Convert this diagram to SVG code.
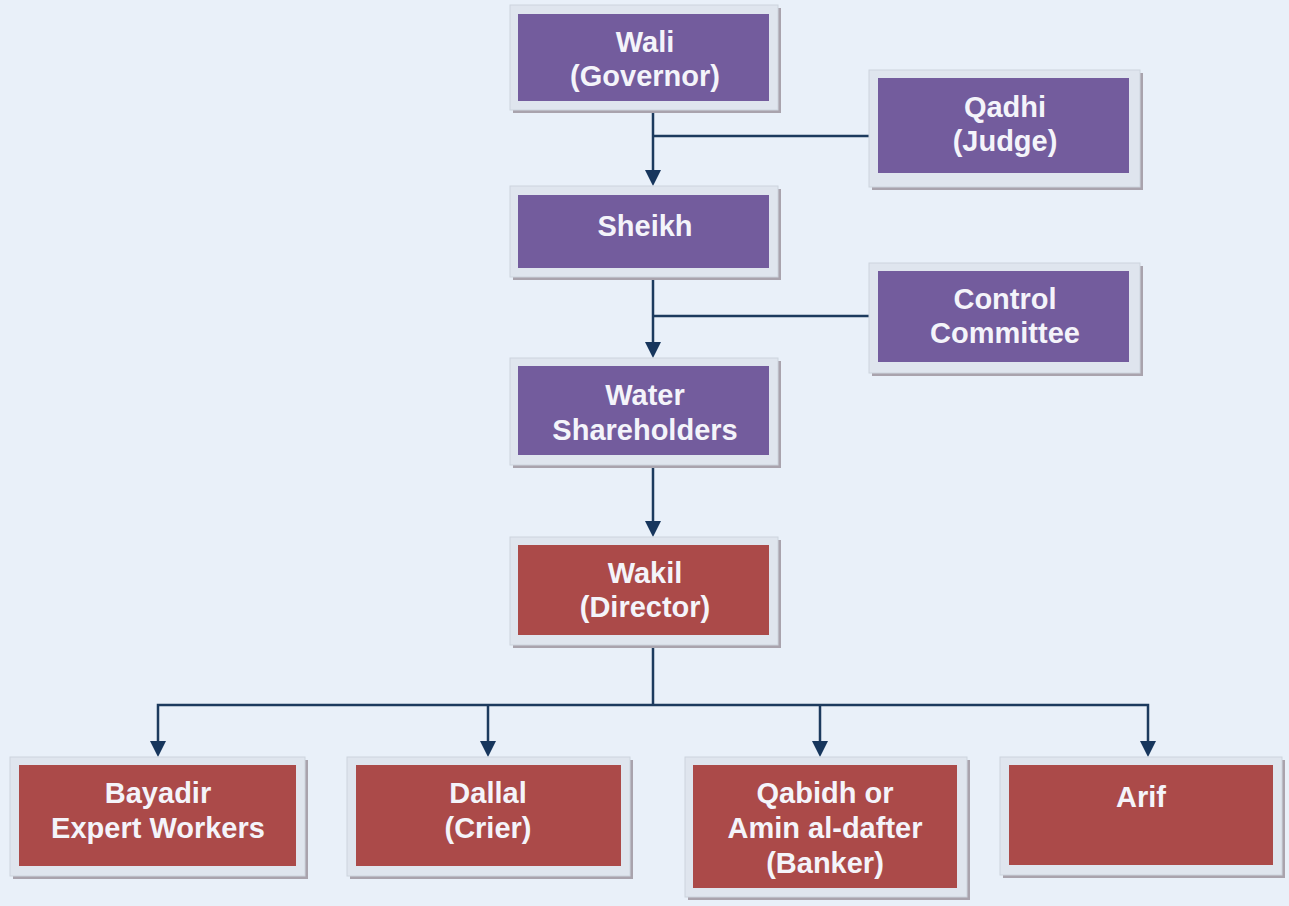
<svg xmlns="http://www.w3.org/2000/svg" width="1289" height="906" viewBox="0 0 1289 906">
<style>
.bg{fill:#e9f0f9}
.sh{fill:#a9a3ad}
.fr{fill:#dfe5ee;stroke:#cdd4de;stroke-width:1}
.pu{fill:#735c9d}
.rd{fill:#ab4a49}
.t{font-family:"Liberation Sans",Arial,sans-serif;font-weight:bold;font-size:29px;fill:#f4f4fa;text-anchor:middle}
.ln{fill:none;stroke:#1c3a5e;stroke-width:2.5}
.ah{fill:#17365d}
</style>
<rect class="bg" x="0" y="0" width="1289" height="906"/>

<g id="connectors">
<path class="ln" d="M653,110 V170"/>
<path class="ah" d="M645,170 H661 L653,186 Z"/>
<path class="ln" d="M653,136 H869"/>
<path class="ln" d="M653,277 V342"/>
<path class="ah" d="M645,342 H661 L653,358 Z"/>
<path class="ln" d="M653,316 H869"/>
<path class="ln" d="M653,465 V521"/>
<path class="ah" d="M645,521 H661 L653,537 Z"/>
<path class="ln" d="M653,645 V705"/>
<path class="ln" d="M158,741 V705 H1148 V741"/>
<path class="ln" d="M488,705 V741"/>
<path class="ln" d="M820,705 V741"/>
<path class="ah" d="M150,741 H166 L158,757 Z"/>
<path class="ah" d="M480,741 H496 L488,757 Z"/>
<path class="ah" d="M812,741 H828 L820,757 Z"/>
<path class="ah" d="M1140,741 H1156 L1148,757 Z"/>
</g>

<g id="wali">
<rect class="sh" x="513" y="8" width="268" height="105"/>
<rect class="fr" x="510" y="5" width="268" height="105"/>
<rect class="pu" x="518" y="14" width="251" height="87"/>
<text class="t" x="645" y="52">Wali</text>
<text class="t" x="645" y="86">(Governor)</text>
</g>

<g id="qadhi">
<rect class="sh" x="872" y="73" width="271" height="117"/>
<rect class="fr" x="869" y="70" width="271" height="117"/>
<rect class="pu" x="878" y="78" width="251" height="95"/>
<text class="t" x="1005" y="117">Qadhi</text>
<text class="t" x="1005" y="151">(Judge)</text>
</g>

<g id="sheikh">
<rect class="sh" x="513" y="189" width="268" height="91"/>
<rect class="fr" x="510" y="186" width="268" height="91"/>
<rect class="pu" x="518" y="195" width="251" height="73"/>
<text class="t" x="645" y="236">Sheikh</text>
</g>

<g id="control-committee">
<rect class="sh" x="872" y="266" width="271" height="110"/>
<rect class="fr" x="869" y="263" width="271" height="110"/>
<rect class="pu" x="878" y="271" width="251" height="91"/>
<text class="t" x="1005" y="309">Control</text>
<text class="t" x="1005" y="343">Committee</text>
</g>

<g id="water-shareholders">
<rect class="sh" x="513" y="361" width="268" height="107"/>
<rect class="fr" x="510" y="358" width="268" height="107"/>
<rect class="pu" x="518" y="366" width="251" height="89"/>
<text class="t" x="645" y="405">Water</text>
<text class="t" x="645" y="440">Shareholders</text>
</g>

<g id="wakil">
<rect class="sh" x="513" y="540" width="268" height="108"/>
<rect class="fr" x="510" y="537" width="268" height="108"/>
<rect class="rd" x="518" y="545" width="251" height="90"/>
<text class="t" x="645" y="583">Wakil</text>
<text class="t" x="645" y="617">(Director)</text>
</g>

<g id="bayadir">
<rect class="sh" x="13" y="760" width="295" height="119"/>
<rect class="fr" x="10" y="757" width="295" height="119"/>
<rect class="rd" x="19" y="765" width="277" height="101"/>
<text class="t" x="158" y="803">Bayadir</text>
<text class="t" x="158" y="838">Expert Workers</text>
</g>

<g id="dallal">
<rect class="sh" x="350" y="760" width="283" height="119"/>
<rect class="fr" x="347" y="757" width="283" height="119"/>
<rect class="rd" x="356" y="765" width="265" height="101"/>
<text class="t" x="488" y="803">Dallal</text>
<text class="t" x="488" y="838">(Crier)</text>
</g>

<g id="qabidh">
<rect class="sh" x="688" y="760" width="282" height="140"/>
<rect class="fr" x="685" y="757" width="282" height="140"/>
<rect class="rd" x="693" y="765" width="264" height="123"/>
<text class="t" x="825" y="803">Qabidh or</text>
<text class="t" x="825" y="838">Amin al-dafter</text>
<text class="t" x="825" y="873">(Banker)</text>
</g>

<g id="arif">
<rect class="sh" x="1003" y="760" width="282" height="118"/>
<rect class="fr" x="1000" y="757" width="282" height="118"/>
<rect class="rd" x="1009" y="765" width="264" height="100"/>
<text class="t" x="1141" y="807">Arif</text>
</g>
</svg>
